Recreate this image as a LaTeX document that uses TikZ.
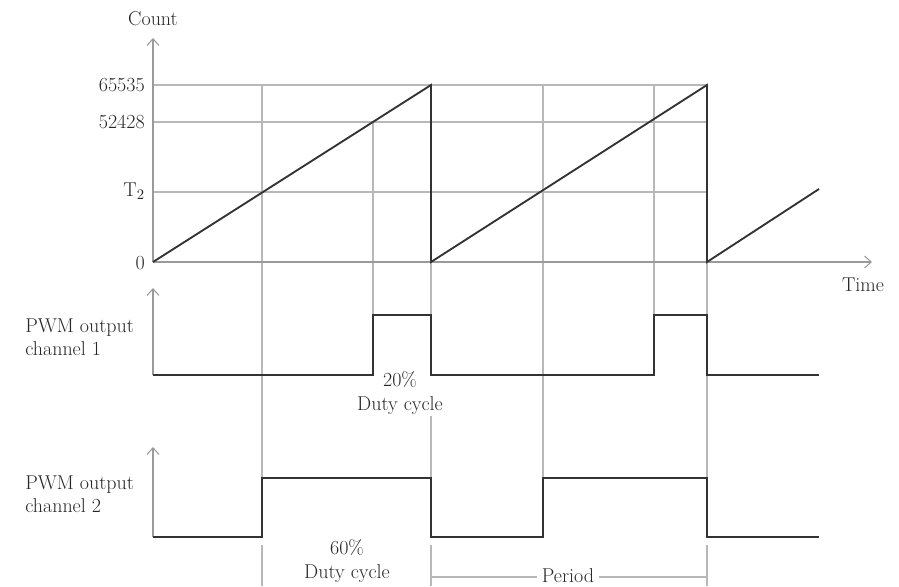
\documentclass[tikz,border=0pt]{standalone}
\usetikzlibrary{arrows.meta}
\definecolor{gridc}{HTML}{B8B8B8}
\definecolor{axisc}{HTML}{9A9A9A}
\definecolor{wavec}{HTML}{333333}
\begin{document}
\begin{tikzpicture}[x=0.75pt,y=-0.75pt,
  every node/.style={font=\fontsize{15}{17.5}\selectfont, text=black!85, inner sep=0pt},
  gridline/.style={draw=gridc, line width=0.8pt},
  axisline/.style={draw=axisc, line width=0.8pt, -{Straight Barb[length=5pt,width=9pt]}},
  wave/.style={draw=wavec, line width=1.4pt, line join=miter},
  lbl/.style={align=center},
  whitelbl/.style={fill=white, inner sep=2pt, align=center}]
\useasboundingbox (0,0) rectangle (899,586);

% key coordinates
\coordinate (O) at (153,262);
\coordinate (countTip) at (153,38);
\coordinate (timeTip) at (872,262);
\coordinate (c1base) at (153,375);
\coordinate (c1tip) at (153,288);
\coordinate (c2base) at (153,537);
\coordinate (c2tip) at (153,447);

% horizontal gridlines
\foreach \yy/\nm in {85/a,122/b,192/c} {
  \coordinate (h\nm L) at (153,\yy);
  \coordinate (h\nm R) at (707,\yy);
  \draw[gridline] (h\nm L) -- (h\nm R);
}

% vertical gridlines
\coordinate (g1t) at (262,85);  \coordinate (g1b) at (262,478);
\coordinate (g2t) at (373,122); \coordinate (g2b) at (373,315);
\coordinate (g3t) at (431,85);  \coordinate (g3b) at (431,478);
\coordinate (g4t) at (543,85);  \coordinate (g4b) at (543,478);
\coordinate (g5t) at (654,85);  \coordinate (g5b) at (654,315);
\coordinate (g6t) at (707,85);  \coordinate (g6b) at (707,478);
\foreach \i in {1,...,6} { \draw[gridline] (g\i t) -- (g\i b); }

% extension lines for duty / period
\coordinate (e1t) at (262,545); \coordinate (e1b) at (262,586);
\coordinate (e3t) at (431,545); \coordinate (e3b) at (431,586);
\coordinate (e6t) at (707,545); \coordinate (e6b) at (707,586);
\draw[gridline] (e1t) -- (e1b);
\draw[gridline] (e3t) -- (e3b);
\draw[gridline] (e6t) -- (e6b);

% period dimension
\coordinate (pL) at (431,577);
\coordinate (pR) at (707,577);
\draw[gridline] (pL) -- (pR);
\node[whitelbl, inner xsep=4pt] (period) at (568,576) {Period};

% duty cycle labels (white background hides gridline only)
\node[whitelbl, inner sep=1pt] (d20) at (400,393) {20\%\\Duty cycle};
\node[lbl] (d60) at (347,561) {60\%\\Duty cycle};

% axes
\draw[axisline] (O) -- (countTip);
\draw[axisline] (O) -- (timeTip);
\draw[axisline] (c1base) -- (c1tip);
\draw[axisline] (c2base) -- (c2tip);

% sawtooth
\draw[wave] (O) -- (431,85) -- (431,262) -- (707,85) -- (707,262) -- (819,189);

% PWM channel 1
\draw[wave] (c1base) -- (373,375) -- (373,315) -- (431,315) -- (431,375)
  -- (654,375) -- (654,315) -- (707,315) -- (707,375) -- (819,375);

% PWM channel 2
\draw[wave] (c2base) -- (262,537) -- (262,478) -- (431,478) -- (431,537)
  -- (543,537) -- (543,478) -- (707,478) -- (707,537) -- (819,537);

% labels
\node (count) at (153,19) {Count};
\node (time) at (863,285) {Time};
\node[anchor=east] (l65535) at (145,85) {65535};
\node[anchor=east] (l52428) at (145,122) {52428};
\node[anchor=east] (lT2) at (145,191) {T$_2$};
\node[anchor=east] (l0) at (145,263) {0};
\node[anchor=west, align=left] (ch1) at (25,337) {PWM output\\channel 1};
\node[anchor=west, align=left] (ch2) at (25,494) {PWM output\\channel 2};
\end{tikzpicture}
\end{document}
